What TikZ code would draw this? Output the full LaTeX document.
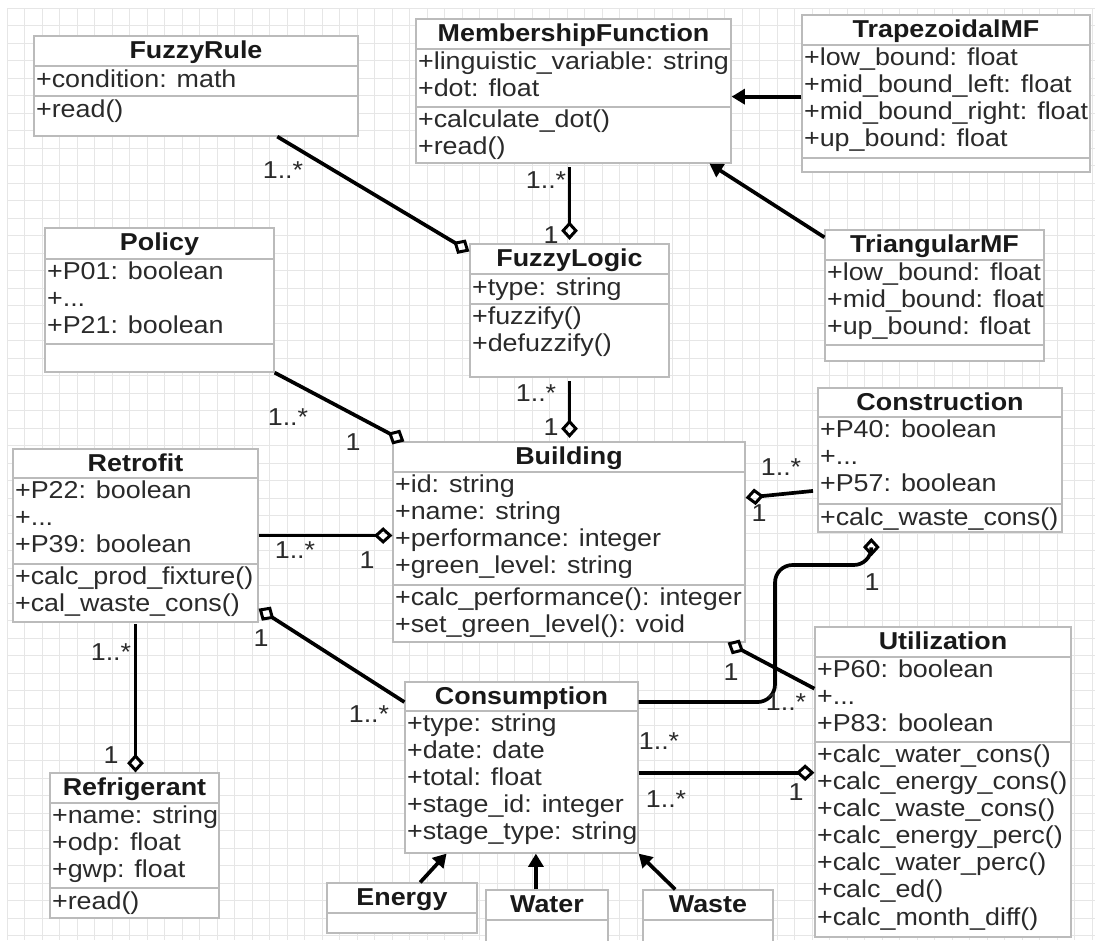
\documentclass[tikz,border=0pt]{standalone}
\usepackage{fontspec}
\setmainfont{Liberation Sans}[FakeStretch=1.1]
\usetikzlibrary{arrows.meta,calc,fit}

\definecolor{gridgray}{HTML}{E6E6E6}
\definecolor{framegray}{HTML}{BBBBBB}
\definecolor{textgray}{HTML}{2A2A2A}

\newcommand{\memberfont}{\fontsize{13.9pt}{15.4pt}\selectfont}

\tikzset{
  classbox/.style={draw=framegray, line width=0.7pt, fill=white, inner sep=0pt},
  divider/.style={draw=framegray, line width=0.9pt},
  classname/.style={anchor=base, font=\memberfont\bfseries, text=black!90, inner sep=0pt},
  members/.style={anchor=north west, align=left, font=\memberfont, text=textgray,
    inner xsep=1pt, inner ysep=1.5pt, execute at begin node=\strut},
  mult/.style={font=\memberfont, text=textgray, inner sep=0pt},
  aggr/.style={line width=2.1pt, -{Diamond[open, length=10.5pt, width=9.5pt, line width=1.7pt]}},
  inherit/.style={line width=2.1pt, -{Triangle[length=7.5pt, width=8.5pt]}}
}

\begin{document}
\begin{tikzpicture}[x=0.02cm, y=-0.02cm]
\useasboundingbox (0,0) rectangle (1095,940);
\clip (0,0) rectangle (1095,940);

% background grid
\foreach \gx in {7,24.5,...,1095} \draw[gridgray, line width=0.5pt] (\gx,8) -- (\gx,940);
\foreach \gy in {8,25.5,...,940} \draw[gridgray, line width=0.5pt] (7,\gy) -- (1095,\gy);

% Class FuzzyRule
\node[classbox, fit={(34,36) (358,136)}] (rule) {};
\node[classname] (rule-t) at ($(rule.north)+(0,23.5)$) {FuzzyRule};
\draw[divider] (34,66) -- (358,66) (34,96) -- (358,96);
\node[members] (rule-a) at (34,66) {+condition: math};
\node[members] (rule-m) at (34,96) {+read()};

% Class MembershipFunction
\node[classbox, fit={(416,19) (731,163)}] (mf) {};
\node[classname] (mf-t) at ($(mf.north)+(0,23.5)$) {MembershipFunction};
\draw[divider] (416,49) -- (731,49) (416,107) -- (731,107);
\node[members] (mf-a) at (416,49) {+linguistic\_variable: string\\+dot: float};
\node[members] (mf-m) at (416,107) {+calculate\_dot()\\+read()};

% Class TrapezoidalMF
\node[classbox, fit={(802,15) (1090,172)}] (trap) {};
\node[classname] (trap-t) at ($(trap.north)+(0,23.5)$) {TrapezoidalMF};
\draw[divider] (802,45) -- (1090,45) (802,158) -- (1090,158);
\node[members] (trap-a) at (802,45) {+low\_bound: float\\+mid\_bound\_left: float\\+mid\_bound\_right: float\\+up\_bound: float};

% Class TriangularMF
\node[classbox, fit={(825,230) (1044,361)}] (tri) {};
\node[classname] (tri-t) at ($(tri.north)+(0,23.5)$) {TriangularMF};
\draw[divider] (825,260) -- (1044,260) (825,345) -- (1044,345);
\node[members] (tri-a) at (825,260) {+low\_bound: float\\+mid\_bound: float\\+up\_bound: float};

% Class Policy
\node[classbox, fit={(45,228) (274,372)}] (policy) {};
\node[classname] (policy-t) at ($(policy.north)+(0,23.5)$) {Policy};
\draw[divider] (45,259) -- (274,259) (45,344) -- (274,344);
\node[members] (policy-a) at (45,259) {+P01: boolean\\+...\\+P21: boolean};

% Class Retrofit
\node[classbox, fit={(13,449) (258,622)}] (retro) {};
\node[classname] (retro-t) at ($(retro.north)+(0,23.5)$) {Retrofit};
\draw[divider] (13,478) -- (258,478) (13,564) -- (258,564);
\node[members] (retro-a) at (13,478) {+P22: boolean\\+...\\+P39: boolean};
\node[members] (retro-m) at (13,564) {+calc\_prod\_fixture()\\+cal\_waste\_cons()};

% Class FuzzyLogic
\node[classbox, fit={(470,244) (669,377)}] (logic) {};
\node[classname] (logic-t) at ($(logic.north)+(0,23.5)$) {FuzzyLogic};
\draw[divider] (470,274) -- (669,274) (470,304) -- (669,304);
\node[members] (logic-a) at (470,274) {+type: string};
\node[members] (logic-m) at (470,304) {+fuzzify()\\+defuzzify()};

% Class Building
\node[classbox, fit={(393,442) (745,642)}] (building) {};
\node[classname] (building-t) at ($(building.north)+(0,23.5)$) {Building};
\draw[divider] (393,472) -- (745,472) (393,585) -- (745,585);
\node[members] (building-a) at (393,472) {+id: string\\+name: string\\+performance: integer\\+green\_level: string};
\node[members] (building-m) at (393,585) {+calc\_performance(): integer\\+set\_green\_level(): void};

% Class Construction
\node[classbox, fit={(818,388) (1062,532)}] (constr) {};
\node[classname] (constr-t) at ($(constr.north)+(0,23.5)$) {Construction};
\draw[divider] (818,417) -- (1062,417) (818,504) -- (1062,504);
\node[members] (constr-a) at (818,417) {+P40: boolean\\+...\\+P57: boolean};
\node[members] (constr-m) at (818,504) {+calc\_waste\_cons()};

% Class Utilization
\node[classbox, fit={(815,627) (1071,937)}] (util) {};
\node[classname] (util-t) at ($(util.north)+(0,23.5)$) {Utilization};
\draw[divider] (815,657) -- (1071,657) (815,742) -- (1071,742);
\node[members] (util-a) at (815,657) {+P60: boolean\\+...\\+P83: boolean};
\node[members] (util-m) at (815,742) {+calc\_water\_cons()\\+calc\_energy\_cons()\\+calc\_waste\_cons()\\+calc\_energy\_perc()\\+calc\_water\_perc()\\+calc\_ed()\\+calc\_month\_diff()};

% Class Consumption
\node[classbox, fit={(405,682) (638,853)}] (cons) {};
\node[classname] (cons-t) at ($(cons.north)+(0,23.5)$) {Consumption};
\draw[divider] (405,711) -- (638,711);
\node[members] (cons-a) at (405,711) {+type: string\\+date: date\\+total: float\\+stage\_id: integer\\+stage\_type: string};

% Class Refrigerant
\node[classbox, fit={(50,773) (219,918)}] (refrig) {};
\node[classname] (refrig-t) at ($(refrig.north)+(0,23.5)$) {Refrigerant};
\draw[divider] (50,803) -- (219,803) (50,888) -- (219,888);
\node[members] (refrig-a) at (50,803) {+name: string\\+odp: float\\+gwp: float};
\node[members] (refrig-m) at (50,888) {+read()};

% Classes Energy, Water, Waste
\node[classbox, fit={(327,883) (477,933)}] (energy) {};
\node[classname] (energy-t) at ($(energy.north)+(0,23.5)$) {Energy};
\draw[divider] (327,913) -- (477,913);
\node[classbox, fit={(486,890) (608,950)}] (water) {};
\node[classname] (water-t) at ($(water.north)+(0,23.5)$) {Water};
\draw[divider] (486,920) -- (608,920);
\node[classbox, fit={(643,890) (773,950)}] (waste) {};
\node[classname] (waste-t) at ($(waste.north)+(0,23.5)$) {Waste};
\draw[divider] (643,920) -- (773,920);

% Aggregations
\draw[aggr] ($(rule.south west)!0.75!(rule.south east)$) -- ($(logic.north west)!0.06!(logic.south west)$);
\draw[aggr, shorten <=2pt, shorten >=2pt] (logic.north |- mf.south) -- (logic.north);
\draw[aggr] (policy.south east) -- ($(building.north west)!0.034!(building.north east)$);
\draw[aggr, shorten <=2pt, shorten >=2pt] (logic.south) -- (logic.south |- building.north);
\draw[aggr] (retro.east) -- (building.west |- retro.east);
\draw[aggr, shorten <=2.5pt] ($(constr.north west)!0.71!(constr.south west)$) -- ($(building.north east)!0.28!(building.south east)$);
\draw[aggr, shorten <=1pt] (retro.south) -- (retro.south |- refrig.north);
\draw[aggr] ($(cons.north west)!0.12!(cons.south west)$) -- ($(retro.north east)!0.92!(retro.south east)$);
\coordinate (bend) at (775,565);
\draw[aggr, rounded corners=10pt, shorten >=3pt] ($(cons.north east)!0.12!(cons.south east)$) -| (bend) -| ($(constr.south west)!0.22!(constr.south east)$);
\draw[aggr] ($(util.north west)!0.2!(util.south west)$) -- ($(building.south west)!0.949!(building.south east)$);
\draw[aggr] ($(cons.north east)!0.53!(cons.south east)$) coordinate (cons-e) -- (util.west |- cons-e);

% Generalisations
\draw[inherit] ($(trap.north west)!0.52!(trap.south west)$) coordinate (trap-w) -- (mf.east |- trap-w);
\draw[inherit] ($(tri.north west)!0.06!(tri.south west)$) -- ($(mf.south west)!0.93!(mf.south east)$);
\draw[inherit] ($(energy.north west)!0.62!(energy.north east)$) -- ($(cons.south west)!0.18!(cons.south east)$);
\draw[inherit] ($(water.north west)!0.41!(water.north east)$) coordinate (water-n) -- (water-n |- cons.south);
\draw[inherit] ($(waste.north west)!0.25!(waste.north east)$) -- (cons.south east);

% Multiplicities
\node[mult] (m-rule) at (283,170) {1..*};
\node[mult] (m-mf) at (546,180) {1..*};
\node[mult] (m-logic1) at (551,235) {1};
\node[mult] (m-policy) at (288,417) {1..*};
\node[mult] (m-bld1) at (353,442) {1};
\node[mult] (m-logic2) at (536,393) {1..*};
\node[mult] (m-bld2) at (551,427) {1};
\node[mult] (m-retro) at (295,550) {1..*};
\node[mult] (m-bld3) at (367,560) {1};
\node[mult] (m-constr) at (781,467) {1..*};
\node[mult] (m-bld4) at (759,513) {1};
\node[mult] (m-refr) at (111,652) {1..*};
\node[mult] (m-refr1) at (111,755) {1};
\node[mult] (m-retro1) at (261,638) {1};
\node[mult] (m-cons1) at (369,714) {1..*};
\node[mult] (m-bld5) at (731,672) {1};
\node[mult] (m-util1) at (786,702) {1..*};
\node[mult] (m-cons2) at (659,741) {1..*};
\node[mult] (m-cons3) at (666,799) {1..*};
\node[mult] (m-util2) at (796,792) {1};
\node[mult] (m-constr1) at (872,582) {1};

\end{tikzpicture}
\end{document}
